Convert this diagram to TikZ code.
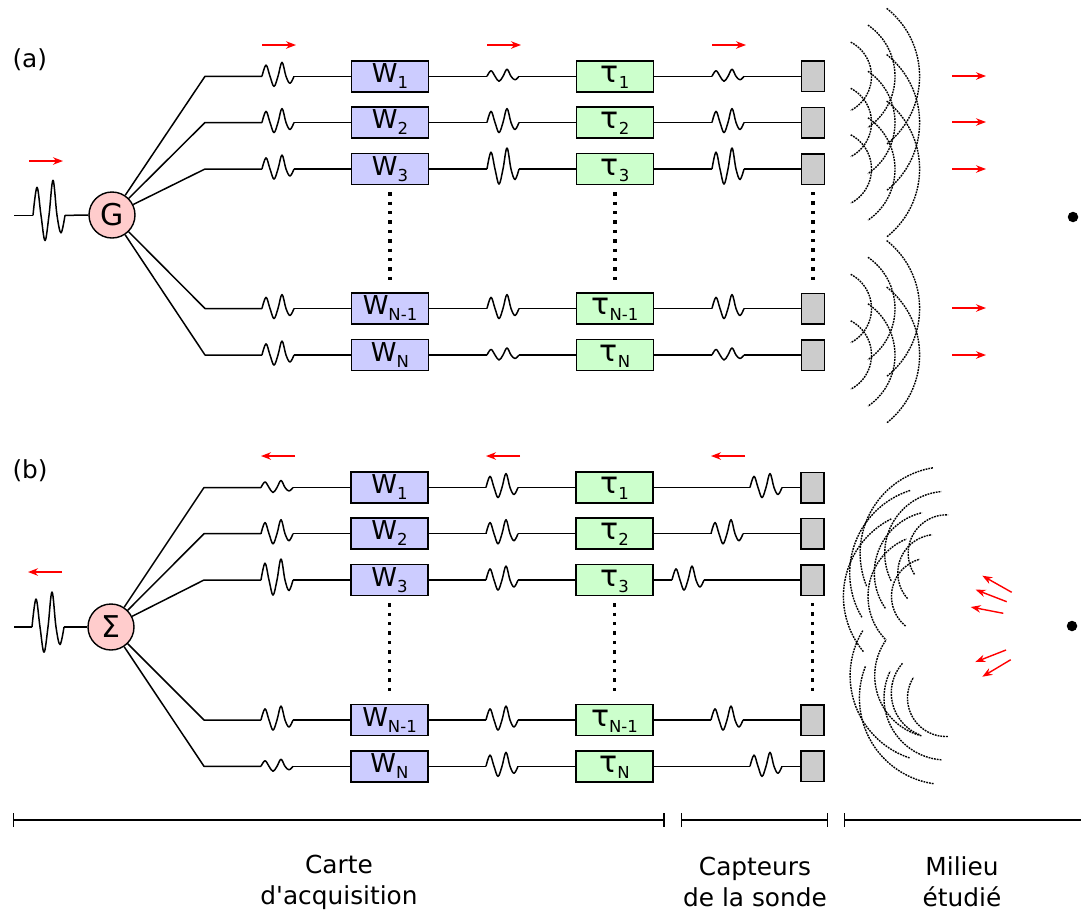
\documentclass[tikz,border=0pt]{standalone}
\usepackage{fontspec}
\newfontfamily\dejavu{DejaVu Sans}
\usetikzlibrary{arrows.meta}

\definecolor{bleuw}{HTML}{CCCCFF}
\definecolor{vertt}{HTML}{CCFFCC}
\definecolor{rosec}{HTML}{FFCCCC}
\definecolor{grisc}{HTML}{CCCCCC}

\tikzset{
  wire/.style={line width=1.5pt, line join=round},
  boite/.style={draw, line width=1.5pt, inner sep=0pt, text height=21.5pt, text depth=9.5pt, minimum width=77pt, font=\dejavu},
  capteur/.style={draw, line width=1.5pt, fill=grisc, minimum width=23pt, minimum height=30.5pt, inner sep=0pt},
  somme/.style={draw, circle, line width=1.4pt, fill=rosec, minimum size=46pt, inner sep=0pt, font=\dejavu\fontsize{30}{30}\selectfont},
  rouge/.style={red, line width=1.4pt, -{Stealth[length=10pt,width=7.5pt]}},
  front/.style={line width=1.4pt, dash pattern=on 1.8pt off 1pt},
  points/.style={line width=3.3pt, dash pattern=on 3.3pt off 6.1pt},
  cote/.style={line width=1.3pt},
  etiq/.style={align=center, font=\dejavu\fontsize{24.8}{31}\selectfont},
  cible/.style={circle, fill=black, minimum size=10.5pt, inner sep=0pt}
}

\newcommand{\lettrew}[1]{\fontsize{26}{26}\selectfont W\raisebox{-6pt}{\fontsize{16.5}{16}\selectfont #1}}
\newcommand{\lettret}[1]{\fontsize{30}{30}\selectfont τ\raisebox{-6pt}{\fontsize{16.5}{16}\selectfont #1}}

% name, x, y, height
\newcommand{\onde}[4]{
  \coordinate (#1a) at (#2,#3);
  \coordinate (#1b) at (#2+32,#3);
  \draw[wire, shift={(#1a)}, yscale=#4] plot[smooth, tension=.6] coordinates
    {(0,0) (4,-.8) (8,0) (12,.72) (16,0) (20,-1) (24,0) (28,.5) (32,0)};
}

% centre x, y, radius, mid angle, half span
\newcommand{\arcfront}[5]{
  \pgfmathsetmacro{\arcdeb}{#4-#5}
  \pgfmathsetmacro{\arcfin}{#4+#5}
  \draw[front] plot[domain=\arcdeb:\arcfin, samples=30, variable=\t] ({#1+#3*cos(\t)},{#2+#3*sin(\t)});
}
\newcommand{\fronts}[3]{
  \arcfront{#1}{#2}{38.5}{#3}{62.6}
  \arcfront{#1}{#2}{62}{#3}{55.7}
  \arcfront{#1}{#2}{86.6}{#3}{51.7}
}

\begin{document}
\begin{tikzpicture}[x=1pt, y=-1pt]
  \useasboundingbox (0,0) rectangle (1081,911);

  % (a)
  \node[etiq, anchor=west] (titrea) at (9,60) {\fontsize{24.8}{24.8}\selectfont (a)};
  \node[somme] (G) at (112,215) {G};
  \coordinate (entreea) at (14,215.3);
  \onde{pg}{33}{215.3}{35}
  \draw[wire] (entreea) -- (pga);
  \draw[wire] (pgb) -- (G);

  \foreach \i/\ry/\lab/\aa/\ab/\ac in {1/76.3/1/14/7/7, 2/122.5/2/14/14/14, 3/169/3/14/21/21, 4/308.5/N-1/14/14/14, 5/355/N/14/7/7} {
    \coordinate (ea\i) at (205,\ry);
    \node[boite, fill=bleuw] (wa\i) at (390,\ry) {\lettrew{\lab}};
    \node[boite, fill=vertt] (ta\i) at (615,\ry) {\lettret{\lab}};
    \node[capteur] (ca\i) at (813,\ry) {};
    \onde{pa\i}{262}{\ry}{\aa}
    \onde{qa\i}{487}{\ry}{\ab}
    \onde{ra\i}{712}{\ry}{\ac}
    \draw[wire] (G) -- (ea\i) -- (pa\i a);
    \draw[wire] (pa\i b) -- (wa\i);
    \draw[wire] (wa\i) -- (qa\i a);
    \draw[wire] (qa\i b) -- (ta\i);
    \draw[wire] (ta\i) -- (ra\i a);
    \draw[wire] (ra\i b) -- (ca\i);
    \fronts{833}{\ry}{0}
  }
  \draw[points, shorten <=7pt, shorten >=12.5pt] (wa3) -- (wa4);
  \draw[points, shorten <=7pt, shorten >=12.5pt] (ta3) -- (ta4);
  \draw[points, shorten <=7pt, shorten >=12.5pt] (ca3) -- (ca4);

  \foreach \xa/\ya in {29/161, 262/45, 487/45, 712/45, 952/76, 952/122, 952/169, 952/308, 952/355}
    \draw[rouge] (\xa,\ya) -- (\xa+34,\ya);
  \node[cible] (ciblea) at (1073,217) {};

  % (b)
  \node[etiq, anchor=west] (titreb) at (9,471) {\fontsize{24.8}{24.8}\selectfont (b)};
  \node[somme] (S) at (111,627) {Σ};
  \coordinate (entreeb) at (14,627);
  \onde{ps}{32}{627}{35}
  \draw[wire] (entreeb) -- (psa);
  \draw[wire] (psb) -- (S);

  \foreach \i/\ry/\lab/\aa/\ab/\ac/\xc in {1/487.5/1/7/14/14/750, 2/533.7/2/14/14/14/711, 3/580/3/21/14/14/672, 4/720/N-1/14/14/14/711, 5/766.3/N/7/14/14/750} {
    \coordinate (eb\i) at (204,\ry);
    \node[boite, fill=bleuw] (wb\i) at (389.5,\ry) {\lettrew{\lab}};
    \node[boite, fill=vertt] (tb\i) at (614.5,\ry) {\lettret{\lab}};
    \node[capteur] (cb\i) at (812.5,\ry) {};
    \onde{pb\i}{261}{\ry}{\aa}
    \onde{qb\i}{486}{\ry}{\ab}
    \onde{rb\i}{\xc}{\ry}{\ac}
    \draw[wire] (S) -- (eb\i) -- (pb\i a);
    \draw[wire] (pb\i b) -- (wb\i);
    \draw[wire] (wb\i) -- (qb\i a);
    \draw[wire] (qb\i b) -- (tb\i);
    \draw[wire] (tb\i) -- (rb\i a);
    \draw[wire] (rb\i b) -- (cb\i);
  }
  \draw[points, shorten <=7pt, shorten >=12.5pt] (wb3) -- (wb4);
  \draw[points, shorten <=7pt, shorten >=12.5pt] (tb3) -- (tb4);
  \draw[points, shorten <=7pt, shorten >=12.5pt] (cb3) -- (cb4);

  \fronts{946.7}{553.3}{209.4}
  \fronts{936.3}{573}{201}
  \fronts{930}{596.3}{192}
  \fronts{946}{698}{150}
  \arcfront{936.7}{675.7}{86.6}{160}{51.7}
  \arcfront{936.7}{675.7}{62}{160}{55.7}
  \arcfront{936.3}{693}{45}{167}{55}

  \foreach \xa/\ya in {62/572, 295/456, 520/456, 745/456}
    \draw[rouge] (\xa,\ya) -- (\xa-34,\ya);
  \draw[rouge] (1011.7,592.3) -- (982.3,575.7);
  \draw[rouge] (1006.7,601.7) -- (975.7,589.7);
  \draw[rouge] (1003.3,613.3) -- (970.7,607);
  \draw[rouge] (1006,650) -- (975.3,662);
  \draw[rouge] (1010.7,659.7) -- (982.3,676.7);
  \node[cible] (cibleb) at (1072,626) {};

  % echelle du bas
  \coordinate (c1) at (13,820);
  \coordinate (c2) at (664.5,820);
  \coordinate (c3) at (681,820);
  \coordinate (c4) at (828,820);
  \coordinate (c5) at (844,820);
  \coordinate (c6) at (1081,820);
  \draw[cote, {Bar[width=14pt]}-{Bar[width=14pt]}] (c1) -- (c2);
  \draw[cote, {Bar[width=14pt]}-{Bar[width=14pt]}] (c3) -- (c4);
  \draw[cote, {Bar[width=14pt]}-] (c5) -- (c6);

  \node[etiq] (carte) at (339,882) {Carte\\d'acquisition};
  \node[etiq] (sonde) at (755,882) {Capteurs\\de la sonde};
  \node[etiq] (milieu) at (962,882) {Milieu\\étudié};
\end{tikzpicture}
\end{document}
